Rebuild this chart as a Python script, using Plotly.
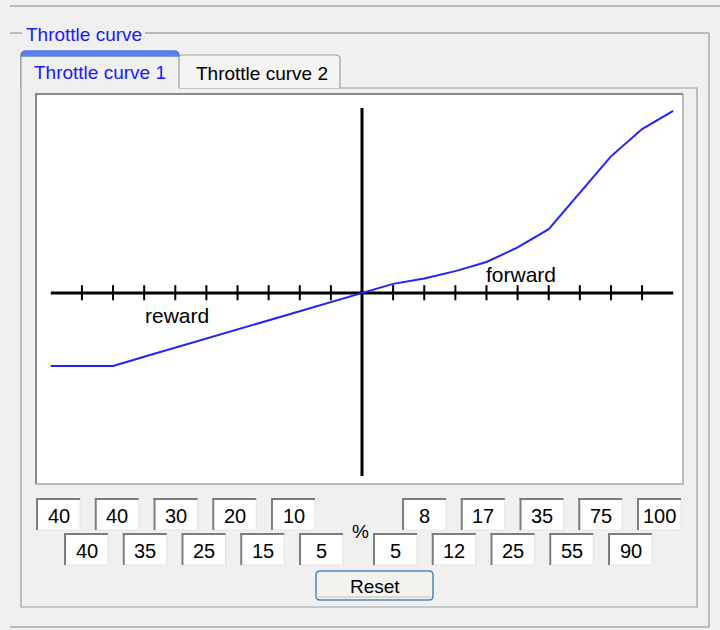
import plotly.graph_objects as go

# ---------------- data ----------------
reward_upper = [40, 40, 30, 20, 10]      # upper row of reverse input boxes (left -> right)
reward_lower = [40, 35, 25, 15, 5]       # lower row of reverse input boxes
forward_upper = [8, 17, 35, 75, 100]     # upper row of forward input boxes
forward_lower = [5, 12, 25, 55, 90]      # lower row of forward input boxes
stick_reverse = [-100, -90, -80, -70, -60, -50, -40, -30, -20, -10]
stick_forward = [10, 20, 30, 40, 50, 60, 70, 80, 90, 100]
stick_ticks = [-90, -80, -70, -60, -50, -40, -30, -20, -10,
               10, 20, 30, 40, 50, 60, 70, 80, 90]
axis_x_ends = [-100, 100]
axis_y_ends = [-100.5, 101.5]

group_title = "Throttle curve"
tab_labels = ["Throttle curve 1", "Throttle curve 2"]
reverse_label = "reward"
forward_label = "forward"
unit_label = "%"
button_label = "Reset"

# curve: boxes interleave upper/lower rows
rev_vals = []
for u, l in zip(reward_upper, reward_lower):
    rev_vals += [-u, -l]
fwd_vals = []
for l, u in zip(forward_lower, forward_upper):
    fwd_vals += [l, u]
curve_x = stick_reverse + [0] + stick_forward
curve_y = rev_vals + [0] + fwd_vals

# ---------------- geometry helpers (pixel -> paper) ----------------
W, H = 720, 630
L, R, T, B = 36, 683, 94, 484
FONT = "Liberation Sans, Arial, sans-serif"


def px(x):
    return (x - L) / (R - L)


def py(y):
    return (B - y) / (B - T)


def line(x0, y0, x1, y1, color, width=1):
    return dict(type="line", xref="paper", yref="paper", x0=px(x0), y0=py(y0),
                x1=px(x1), y1=py(y1), line=dict(color=color, width=width), layer="above")


def rect(x0, y0, x1, y1, fill, lc="rgba(0,0,0,0)", lw=0, layer="above"):
    return dict(type="rect", xref="paper", yref="paper", x0=px(x0), y0=py(y1),
                x1=px(x1), y1=py(y0), fillcolor=fill, line=dict(color=lc, width=lw),
                layer=layer)


def path(d_pts, fill=None, lc="rgba(0,0,0,0)", lw=0, close=False):
    s = ""
    for cmd, *pts in d_pts:
        s += cmd + " " + " ".join(f"{px(a):.5f},{py(b):.5f}" for a, b in zip(pts[::2], pts[1::2])) + " "
    if close:
        s += "Z"
    d = dict(type="path", xref="paper", yref="paper", path=s,
             line=dict(color=lc, width=lw), layer="above")
    if fill:
        d["fillcolor"] = fill
    return d


def text(x, y, s, size=19, color="black", xanchor="center"):
    return dict(xref="paper", yref="paper", x=px(x), y=py(y), text=s, showarrow=False,
                xanchor=xanchor, yanchor="middle",
                font=dict(family=FONT, size=size, color=color))


fig = go.Figure()

# ---------------- chart marks ----------------
fig.add_trace(go.Scatter(x=axis_x_ends, y=[0, 0], mode="lines",
                         line=dict(color="black", width=3), hoverinfo="skip"))
fig.add_trace(go.Scatter(x=[0, 0], y=axis_y_ends, mode="lines",
                         line=dict(color="black", width=3), hoverinfo="skip"))
tx, ty = [], []
for t in stick_ticks:
    tx += [t, t, None]
    ty += [-4, 4.3, None]
fig.add_trace(go.Scatter(x=tx, y=ty, mode="lines",
                         line=dict(color="black", width=2), hoverinfo="skip"))
fig.add_trace(go.Scatter(x=curve_x, y=curve_y, mode="lines",
                         line=dict(color="#2222ff", width=2), hoverinfo="skip"))

shapes = []
ann = []

# outer window line
shapes.append(line(10, 6, 720, 6, "#a8a8a8", 1.5))
# group box
shapes.append(line(10, 33, 22, 33, "#a8a8a8", 1.5))
shapes.append(line(145, 33, 709, 33, "#a8a8a8", 1.5))
shapes.append(line(709, 33, 709, 627, "#a8a8a8", 1.5))
shapes.append(line(10, 627, 709, 627, "#a8a8a8", 1.5))
ann.append(text(24, 34.5, group_title, 19, "#1a1aff", "left"))

# tab panel
shapes.append(path([("M", 179, 88), ("L", 697, 88), ("L", 697, 607), ("L", 21, 607), ("L", 21, 56)],
                   lc="#97a0a2", lw=1.2))
# tab 2 (unselected)
shapes.append(path([("M", 178, 88), ("L", 178, 59), ("Q", 178, 55, 182, 55), ("L", 336, 55),
                    ("Q", 340, 55, 340, 59), ("L", 340, 88)], fill="#f4f4f2",
                   lc="#97a0a2", lw=1.2))
# tab 1 (selected)
shapes.append(path([("M", 21, 88), ("L", 21, 56), ("Q", 21, 51, 26, 51), ("L", 174, 51),
                    ("Q", 179, 51, 179, 56), ("L", 179, 88)], fill="#f0f0f0",
                   lc="#97a0a2", lw=1.2))
shapes.append(path([("M", 21, 56), ("Q", 21, 51, 26, 51), ("L", 174, 51),
                    ("Q", 179, 51, 179, 56), ("L", 179, 56)], fill="#5b7fe3",
                   lc="#5b7fe3", lw=1.5, close=True))
ann.append(text(99.5, 72.5, tab_labels[0], 19, "#1a1aff"))
ann.append(text(261.5, 74, tab_labels[1], 19, "black"))

# plot frame
shapes.append(path([("M", 36, 484), ("L", 36, 94), ("L", 683, 94)], lc="#8a8a8a", lw=2))
shapes.append(path([("M", 683, 94), ("L", 683, 484), ("L", 36, 484)], lc="#a8a8a8", lw=1.5))

# chart labels
ann.append(dict(xref="x", yref="y", x=-59.5, y=-12.5, text=reverse_label, showarrow=False,
                font=dict(family=FONT, size=21, color="black")))
ann.append(dict(xref="x", yref="y", x=51, y=10, text=forward_label, showarrow=False,
                font=dict(family=FONT, size=21, color="black")))

# input boxes
BW, BH, STEP = 44, 32, 58.75


def box(left, top, value):
    shapes.append(rect(left, top, left + BW, top + BH, "white"))
    shapes.append(line(left, top + BH, left + BW, top + BH, "#e2e2e2", 1))
    shapes.append(line(left + BW, top, left + BW, top + BH, "#e2e2e2", 1))
    shapes.append(line(left, top + 1, left + BW, top + 1, "#7d7d7d", 2))
    shapes.append(line(left + 1, top, left + 1, top + BH, "#7d7d7d", 2))
    ann.append(text(left + BW / 2 + 0.5, top + BH / 2 + 2, str(value), 20, "black"))


rows = [(36, 498, reward_upper), (64, 533, reward_lower),
        (402, 498, forward_upper), (373, 533, forward_lower)]
for start, top, vals in rows:
    for i, v in enumerate(vals):
        box(start + i * STEP, top, v)

ann.append(text(360, 531, unit_label, 19, "black"))

# reset button
shapes.append(path([("M", 320, 571), ("L", 429, 571), ("Q", 433, 571, 433, 575), ("L", 433, 596),
                    ("Q", 433, 600, 429, 600), ("L", 320, 600), ("Q", 316, 600, 316, 596),
                    ("L", 316, 575), ("Q", 316, 571, 320, 571)], fill="#f3f3ee",
                   lc="#4f86b8", lw=1.5, close=True))
shapes.append(line(318, 597, 431, 597, "#dcdad0", 2))
ann.append(text(375, 586, button_label, 19, "black"))

fig.update_layout(
    width=W, height=H,
    margin=dict(l=L, r=W - R, t=T, b=H - B),
    paper_bgcolor="#f0f0f0",
    plot_bgcolor="white",
    showlegend=False,
    xaxis=dict(range=[(L - 362) / 3.112, (R - 362) / 3.112], visible=False, fixedrange=True),
    yaxis=dict(range=[(293 - B) / 1.822, (293 - T) / 1.822], visible=False, fixedrange=True),
    shapes=shapes,
    annotations=ann,
)

fig.write_html("out.html", config={"displayModeBar": False},
               post_script="document.body.style.margin='0';document.body.style.background='#f0f0f0';")
